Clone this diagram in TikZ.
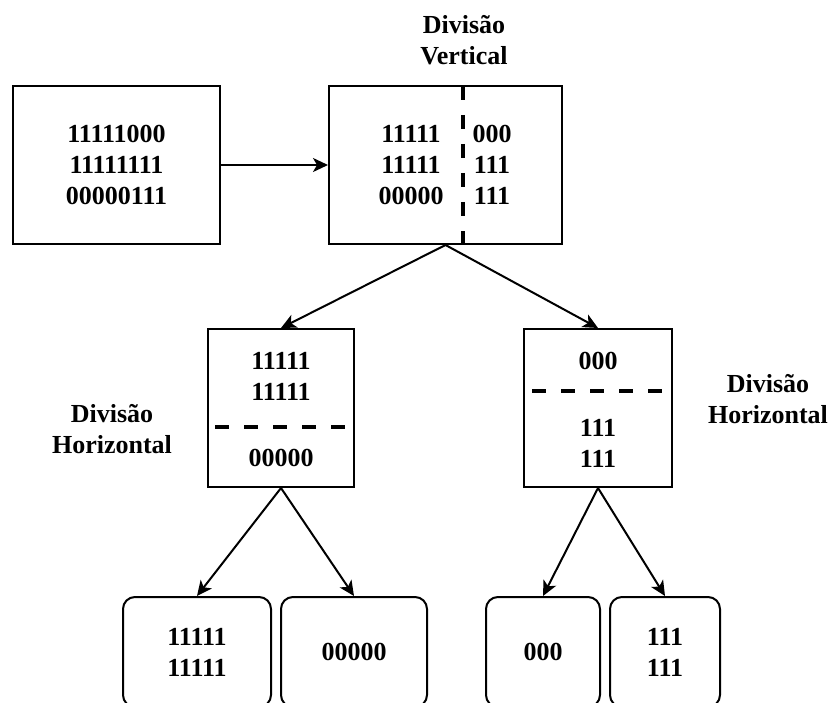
\documentclass[tikz,border=0pt]{standalone}
\usepackage{fontspec}
\setmainfont{Liberation Serif}
\usepackage{tikz}
\usetikzlibrary{arrows.meta}
\tikzset{
	bits/.style={align=center,inner sep=0pt,font=\fontsize{26}{31}\selectfont\bfseries},
	part/.style={bits,draw,line width=2pt,minimum height=158pt},
	leaf/.style={bits,draw,line width=2pt,rounded corners=12pt,minimum height=110pt},
	cut/.style={line width=4pt,dash pattern=on 14pt off 15pt},
	link/.style={line width=2pt,-{Stealth[length=15pt,width=14pt,inset=4pt]}}
}

\begin{document}
\begin{tikzpicture}[x=1pt,y=-1pt]
\clip (0,0) rectangle (834,703);

\node (src) at (116.5,165) [part,minimum width=207pt] {11111000\\11111111\\00000111};

\node (vsplit) at (445.5,165) [part,minimum width=233pt] {};
\node (vleft) at (411,165) [bits] {11111\\11111\\00000};
\node (vright) at (492,165) [bits] {000\\111\\111};
\draw [cut] (463,86) -- (463,244);
\node (vlabel) at (464,40) [bits] {Divisão\\Vertical};

\draw [link] (src.east) -- (vsplit.west);

\node (hleft) at (281,408) [part,minimum width=146pt] {};
\node (hleftup) at (281,376.5) [bits] {11111\\11111};
\node (hleftlow) at (281,458) [bits] {00000};
\draw [cut] (215,427) -- (346,427);
\node (hlabelL) at (112,429) [bits] {Divisão\\Horizontal};

\node (hright) at (598,408) [part,minimum width=148pt] {};
\node (hrightup) at (598,361) [bits] {000};
\node (hrightlow) at (598,443) [bits] {111\\111};
\draw [cut] (532,391) -- (663,391);
\node (hlabelR) at (768,399) [bits] {Divisão\\Horizontal};

\draw [link] (vsplit.south) -- (hleft.north);
\draw [link] (vsplit.south) -- (hright.north);

\node (leafA) at (197,652) [leaf,minimum width=148pt] {11111\\11111};
\node (leafB) at (354,652) [leaf,minimum width=146pt] {00000};
\node (leafC) at (543,652) [leaf,minimum width=114pt] {000};
\node (leafD) at (665,652) [leaf,minimum width=110pt] {111\\111};

\draw [link] (hleft.south) -- (leafA.north);
\draw [link] (hleft.south) -- (leafB.north);
\draw [link] (hright.south) -- (leafC.north);
\draw [link] (hright.south) -- (leafD.north);
\end{tikzpicture}
\end{document}
